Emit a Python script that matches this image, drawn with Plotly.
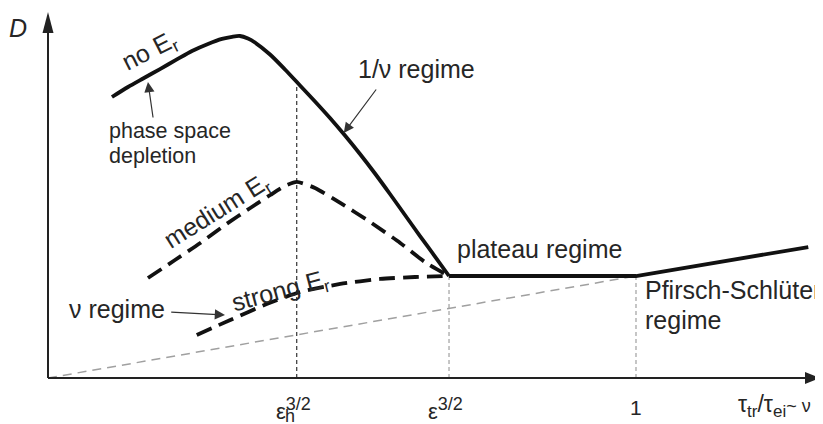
import numpy as np
import plotly.graph_objects as go

# ---- schematic data (x in units of tau_tr/tau_ei, 1 = Pfirsch-Schlueter boundary; y = D in plateau units)
tick_vals = [0.423, 0.682, 1.0]
tick_text = ["ε<sup><span style='font-size:18px'>3/2</span></sup>",
             "ε<sup><span style='font-size:18px'>3/2</span></sup>",
             "1"]

no_er_x = [0.1088, 0.1361, 0.1633, 0.1905, 0.2177, 0.2449, 0.2721, 0.2959, 0.3129, 0.3265,
           0.3401, 0.3520, 0.3776, 0.4031, 0.4286, 0.4541, 0.4796, 0.5051, 0.5306, 0.5561,
           0.5816, 0.6071, 0.6327, 0.6582, 0.6820]
no_er_y = [2.755, 2.853, 2.941, 3.029, 3.118, 3.206, 3.275, 3.324, 3.345, 3.353,
           3.328, 3.289, 3.172, 3.025, 2.868, 2.711, 2.549, 2.377, 2.196, 2.005,
           1.804, 1.598, 1.392, 1.191, 1.000]

plateau_ps_x = [0.682, 1.000, 1.293]
plateau_ps_y = [1.000, 1.000, 1.284]

medium_x = [0.170, 0.216, 0.259, 0.301, 0.344, 0.378, 0.403, 0.423, 0.454, 0.497, 0.548, 0.599, 0.641, 0.682]
medium_y = [0.980, 1.157, 1.324, 1.500, 1.667, 1.794, 1.882, 1.922, 1.863, 1.716, 1.529, 1.324, 1.137, 1.000]

strong_x = [0.253, 0.310, 0.372, 0.429, 0.497, 0.565, 0.624, 0.682]
strong_y = [0.422, 0.569, 0.725, 0.843, 0.922, 0.971, 0.990, 1.000]

nu_line_x = [0.0, 1.0]
nu_line_y = [0.0, 1.0]

# ---- styling / layout helpers
FONT = "Liberation Sans, Arial, Helvetica, sans-serif"
TXT = "#262626"
# page body has an 8px margin; figure covers window pixels 8..823 x 8..424
XR = [-40 / 588, 775 / 588]
YR = [-46 / 102, 370 / 102]

fig = go.Figure()

# reference guide lines
fig.add_trace(go.Scatter(x=nu_line_x, y=nu_line_y, mode="lines",
                         line=dict(color="#a0a0a0", width=1.5, dash="9px,6px"), hoverinfo="skip"))
eh_top = float(np.interp(tick_vals[0], no_er_x, no_er_y))
fig.add_trace(go.Scatter(x=[tick_vals[0], tick_vals[0]], y=[0, eh_top],
                         mode="lines", line=dict(color="#333333", width=1.2, dash="4px,3px"), hoverinfo="skip"))
for tv in tick_vals[1:]:
    fig.add_trace(go.Scatter(x=[tv, tv], y=[0, plateau_ps_y[0]], mode="lines",
                             line=dict(color="#a0a0a0", width=1.2, dash="4px,3px"), hoverinfo="skip"))

# curves
fig.add_trace(go.Scatter(x=no_er_x, y=no_er_y, mode="lines",
                         line=dict(color="#111111", width=3.8, shape="spline", smoothing=0.8), hoverinfo="skip"))
fig.add_trace(go.Scatter(x=plateau_ps_x, y=plateau_ps_y, mode="lines",
                         line=dict(color="#111111", width=3.8), hoverinfo="skip"))
fig.add_trace(go.Scatter(x=medium_x, y=medium_y, mode="lines",
                         line=dict(color="#111111", width=3.8, dash="16px,8px", shape="spline", smoothing=0.6),
                         hoverinfo="skip"))
fig.add_trace(go.Scatter(x=strong_x, y=strong_y, mode="lines",
                         line=dict(color="#111111", width=3.8, dash="16px,8px", shape="spline", smoothing=0.6),
                         hoverinfo="skip"))

# axes with arrow heads
x_tip = 772 / 588
y_tip = 366 / 102
shapes = [
    dict(type="line", xref="x", yref="y", x0=0, y0=0, x1=x_tip - 0.02, y1=0,
         line=dict(color="#222222", width=2)),
    dict(type="line", xref="x", yref="y", x0=0, y0=0, x1=0, y1=y_tip - 0.1,
         line=dict(color="#222222", width=2)),
    dict(type="path", xref="x", yref="y", xsizemode="pixel", ysizemode="pixel",
         xanchor=x_tip, yanchor=0, path="M0,0 L-15,6 L-15,-6 Z",
         fillcolor="#222222", line=dict(width=0)),
    dict(type="path", xref="x", yref="y", xsizemode="pixel", ysizemode="pixel",
         xanchor=0, yanchor=y_tip, path="M0,0 L-5.5,-21 L5.5,-21 Z",
         fillcolor="#222222", line=dict(width=0)),
]

ann = []


def txt(x, y, s, size=25, angle=0, xanchor="center", italic=False, xshift=0, yshift=0):
    ann.append(dict(x=x, y=y, xref="x", yref="y", text=s, showarrow=False, textangle=angle,
                    xanchor=xanchor, yanchor="middle", xshift=xshift, yshift=yshift,
                    font=dict(family=FONT, size=size, color=TXT, style="italic" if italic else "normal")))


def arrow(x_head, y_head, x_tail, y_tail):
    ann.append(dict(x=x_head, y=y_head, ax=x_tail, ay=y_tail, xref="x", yref="y", axref="x", ayref="y",
                    text="", showarrow=True, arrowhead=2, arrowsize=1.7, arrowwidth=1.2,
                    arrowcolor="#333333", standoff=0, startstandoff=0))


txt(-0.051, 3.43, "D", size=25, italic=True)
txt(0.172, 3.20, "no E<sub>r</sub>", angle=-27)
txt(0.100, 2.422, "phase space", size=21.5, xanchor="left")
txt(0.100, 2.176, "depletion", size=21.5, xanchor="left")
arrow(0.170, 2.902, 0.179, 2.539)
txt(0.626, 3.029, "1/ν regime")
arrow(0.503, 2.402, 0.560, 2.843)
txt(0.288, 1.63, "medium E<sub>r</sub>", angle=-32)
txt(0.395, 0.843, "strong E<sub>r</sub>", angle=-15)
txt(0.117, 0.676, "ν regime")
arrow(0.301, 0.618, 0.207, 0.647)
txt(0.692, 1.265, "plateau regime", xanchor="left")
txt(1.012, 0.863, "Pfirsch-Schlüter", xanchor="left")
txt(1.012, 0.569, "regime", xanchor="left")

# tick labels
txt(tick_vals[0], -0.30, tick_text[0], size=22, xshift=-3)
txt(tick_vals[0], -0.375, "h", size=18, xshift=-7)
txt(tick_vals[1], -0.30, tick_text[1], size=22, xshift=-4)
txt(tick_vals[2], -0.294, tick_text[2], size=21)
txt(1.236, -0.27,
    "τ<sub><span style='font-size:17px'>tr</span></sub>/τ<sub><span style='font-size:17px'>ei</span></sub>"
    "<span style='font-size:18px'>~ ν</span>", size=23)

fig.update_layout(
    width=815, height=416, margin=dict(l=0, r=0, t=0, b=0),
    paper_bgcolor="white", plot_bgcolor="white", showlegend=False,
    xaxis=dict(range=XR, visible=False, fixedrange=True),
    yaxis=dict(range=YR, visible=False, fixedrange=True),
    shapes=shapes, annotations=ann,
)

fig.write_html("out.html")
